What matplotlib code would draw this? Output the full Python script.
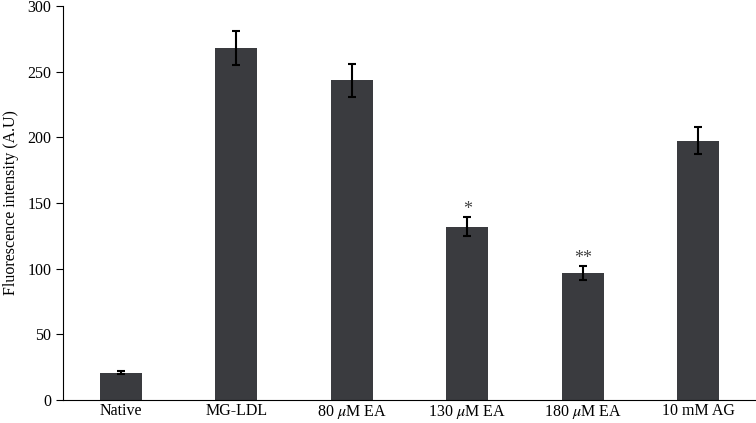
import numpy as np
import matplotlib
matplotlib.use('Agg')
import matplotlib.pyplot as plt

# Data
groups = ['Native', 'MG-LDL', r'80 $\mu$M EA', r'130 $\mu$M EA', r'180 $\mu$M EA', '10 mM AG']
values = [20.8, 268, 243.5, 132, 96.5, 197.5]
errors = [1.3, 13.3, 12.5, 7.5, 5.5, 10]
marks = ['', '', '', '*', '**', '']

plt.rcParams['font.family'] = ['Liberation Serif', 'DejaVu Serif']
plt.rcParams['mathtext.fontset'] = 'stix'

fig = plt.figure(figsize=(7.56, 4.23), dpi=100)
ax = fig.add_axes([0.0833, 0.0544, 0.9167, 0.9314])

x = np.arange(len(groups))
ax.bar(x, values, width=0.365, color='#3a3b3f', zorder=2)
ax.errorbar(x, values, yerr=errors, fmt='none', ecolor='black',
            elinewidth=1.5, capsize=3, capthick=1.5, zorder=3)

for xi, v, e, m in zip(x, values, errors, marks):
    if m:
        ax.text(xi, v + e - 1, m, ha='center', va='bottom', fontsize=13, color='#444444')

ax.set_xlim(-0.5, 5.5)
ax.set_ylim(0, 300)
ax.set_yticks(range(0, 301, 50))
ax.set_xticks(x)
ax.set_xticklabels(groups, fontsize=11.5)
ax.tick_params(axis='x', length=0, pad=2)
ax.tick_params(axis='y', direction='out', length=5, labelsize=11.5)
ax.set_ylabel('Fluorescence intensity (A.U)', fontsize=11.5, labelpad=6)

for s in ['top', 'right']:
    ax.spines[s].set_visible(False)

fig.savefig('out.png', dpi=100)
